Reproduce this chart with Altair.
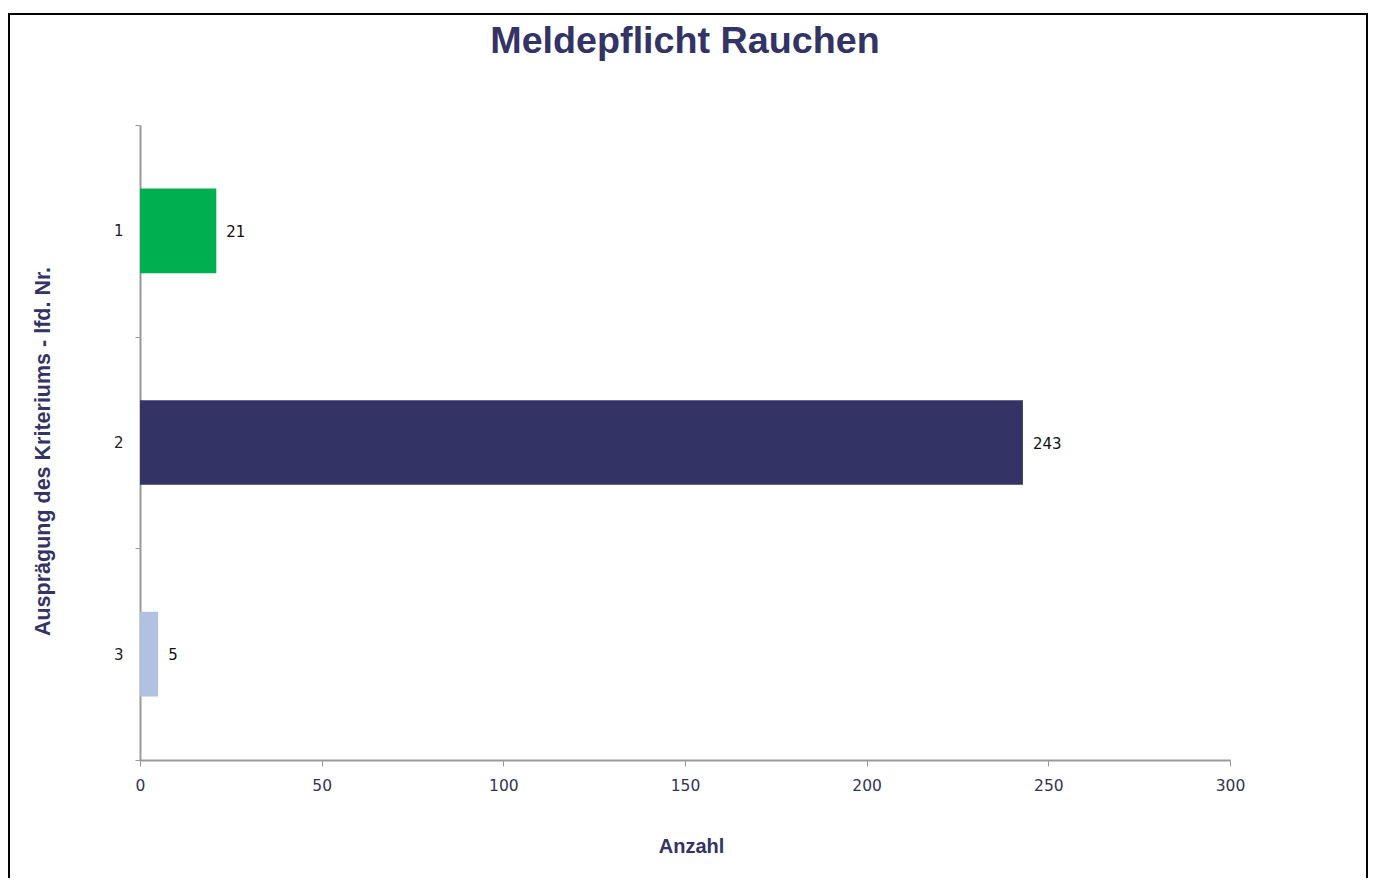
import altair as alt
import pandas as pd

categories = ["1", "2", "3"]
values = [21, 243, 5]
colors = ["#00B050", "#333366", "#B0C1E2"]

df = pd.DataFrame({"cat": categories, "val": values, "color": colors})

W, H = 1090, 635
NAVY = "#333366"

base = alt.Chart(df)

bars = base.mark_bar(height={"band": 0.4}).encode(
    y=alt.Y(
        "cat:N",
        sort=categories,
        scale=alt.Scale(paddingInner=0, paddingOuter=0),
        axis=alt.Axis(
            title="Ausprägung des Kriteriums - lfd. Nr.",
            titleFont="Liberation Sans",
            titleFontSize=21.5,
            titleFontWeight="bold",
            titleColor=NAVY,
            titleAngle=270,
            titleX=-91,
            titleY=326,
            titleAlign="center",
            titleBaseline="alphabetic",
            labelFont="DejaVu Sans",
            labelFontSize=15,
            labelColor="#222222",
            labelPadding=12,
            tickBand="extent",
            tickSize=5,
            tickColor="#999999",
            domainColor="#999999",
            domainWidth=2,
            tickWidth=1,
        ),
    ),
    x=alt.X(
        "val:Q",
        scale=alt.Scale(domain=[0, 300], nice=False),
        axis=alt.Axis(
            values=[0, 50, 100, 150, 200, 250, 300],
            title="Anzahl",
            titleFont="Liberation Sans",
            titleFontSize=20,
            titleFontWeight="bold",
            titleColor=NAVY,
            titleX=551,
            titleY=92,
            titleAlign="center",
            titleBaseline="alphabetic",
            labelFont="DejaVu Sans",
            labelFontSize=15.5,
            labelColor="#333355",
            labelPadding=12,
            labelFlush=False,
            tickSize=6,
            tickColor="#999999",
            domainColor="#999999",
            domainWidth=2,
            grid=False,
        ),
    ),
    color=alt.Color("color:N", scale=None),
)

labels = base.mark_text(
    align="left", baseline="middle", dx=10, dy=1, font="DejaVu Sans", fontSize=15, color="#111111"
).encode(
    y=alt.Y("cat:N", sort=categories),
    x=alt.X("val:Q"),
    text=alt.Text("val:Q"),
)

frame = alt.Chart(pd.DataFrame({"k": [0]})).mark_rect(
    fill=None, stroke="black", strokeWidth=2
).encode(
    x=alt.value(-131),
    x2=alt.value(1227),
    y=alt.value(-111),
    y2=alt.value(900),
)

chart = (
    alt.layer(bars, labels, frame)
    .properties(
        width=W,
        height=H,
        autosize=alt.AutoSizeParams(type="none"),
        padding={"left": 132, "top": 117, "right": 138, "bottom": 118},
        title=alt.Title(
            "Meldepflicht Rauchen",
            font="Liberation Sans",
            fontSize=37.7,
            fontWeight="bold",
            color=NAVY,
            anchor="middle",
            baseline="alphabetic",
            offset=-78,
        ),
    )
    .configure_view(stroke=None)
)

chart.save("out.html", embed_options={"renderer": "svg", "actions": False})
